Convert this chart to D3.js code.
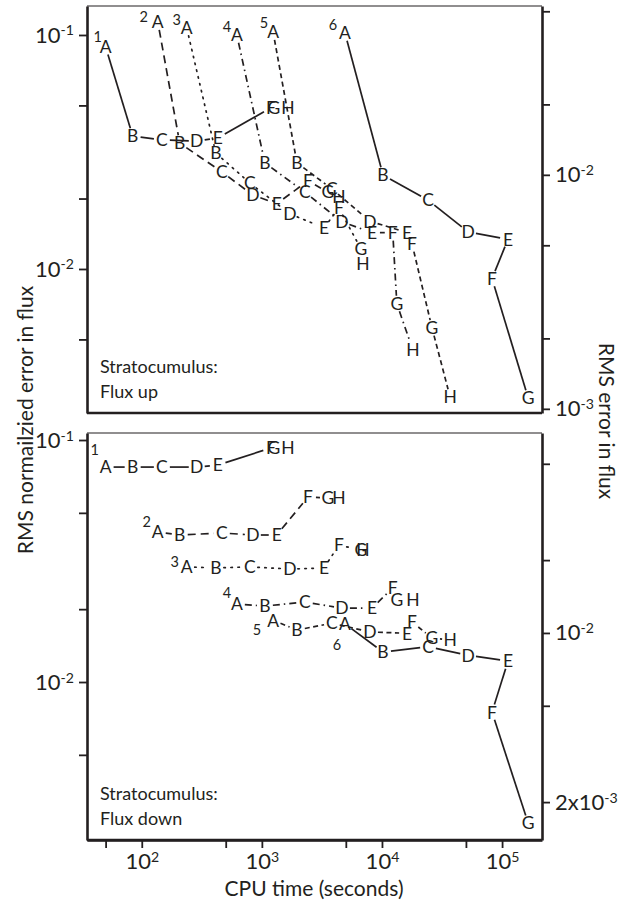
<!DOCTYPE html>
<html>
<head>
<meta charset="UTF-8">
<script src="https://d3js.org/d3.v7.min.js"></script>
<style>
  body { margin: 0; background: #fff; }
  svg text { font-family: Lato, "Open Sans", sans-serif; fill: #231f20; }
</style>
</head>
<body>
<svg id="chart" width="628" height="901"></svg>
<script>
// point letters and series numbers
const pointLetters = ['A', 'B', 'C', 'D', 'E', 'F', 'G', 'H'];
const seriesNames = ['1', '2', '3', '4', '5', '6'];

// CPU time (seconds) of each point, same for both panels
const cpuTime = [
  [50, 84, 147, 287, 430, 1190, 1260, 1650],
  [136, 207, 464, 841, 1330, 2420, 3550, 4380],
  [237, 414, 794, 1710, 3290, 4380, 6680, 6950],
  [619, 1060, 2280, 4640, 8250, 12300, 13300, 18100],
  [1240, 1960, 3830, 7940, 16200, 17800, 26100, 36900],
  [4920, 10200, 24200, 52100, 112000, 82500, 165000]
];

// RMS normalized error, flux up
const fluxUpError = [
  [0.0889, 0.0370, 0.0356, 0.0352, 0.0363, 0.0488, 0.0488, 0.0488],
  [0.1137, 0.0345, 0.0260, 0.0207, 0.0190, 0.0238, 0.0213, 0.0203],
  [0.1071, 0.0313, 0.0233, 0.0172, 0.0150, 0.0182, 0.0122, 0.0105],
  [0.1000, 0.0284, 0.0213, 0.0159, 0.0143, 0.0143, 0.0071, 0.0045],
  [0.1030, 0.0284, 0.0220, 0.0160, 0.0143, 0.0128, 0.0056, 0.00284],
  [0.1020, 0.0252, 0.0197, 0.0144, 0.0134, 0.0091, 0.00281]
];

// RMS normalized error, flux down
const fluxDownError = [
  [0.0773, 0.0773, 0.0773, 0.0773, 0.0788, 0.0927, 0.0927, 0.0927],
  [0.0417, 0.0405, 0.0413, 0.0405, 0.0405, 0.0581, 0.0576, 0.0576],
  [0.0299, 0.0296, 0.0299, 0.0293, 0.0296, 0.0368, 0.0351, 0.0351],
  [0.0210, 0.0206, 0.0214, 0.0202, 0.0202, 0.0245, 0.0218, 0.0218],
  [0.0180, 0.0164, 0.0175, 0.0161, 0.0159, 0.0177, 0.0152, 0.0149],
  [0.0174, 0.0133, 0.0140, 0.0129, 0.0122, 0.0075, 0.00261]
];

// ticks
const xTicks = [50, 100, 500, 1000, 5000, 1e4, 5e4, 1e5];
const xTickLabels = [[100, '10', '2'], [1000, '10', '3'], [1e4, '10', '4'], [1e5, '10', '5']];
const leftTicks = [0.1, 0.05, 0.02, 0.01, 0.005];
const leftTickLabels = [[0.1, '10', '-1'], [0.01, '10', '-2']];
const upRightTicks = [0.05, 0.02, 0.01, 0.005, 0.002, 0.001];
const upRightLabels = [[0.01, '10', '-2'], [0.001, '10', '-3']];
const downRightTicks = [0.05, 0.02, 0.01, 0.005, 0.002];
const downRightLabels = [[0.01, '10', '-2'], [0.002, '2x10', '-3']];

// styles
const dashes = ['none', '8,5', '1.5,5.5', '7,4,1.5,4', '5,3.5', 'none'];
const upNumOffsets = [[-8, -10], [-14, -5], [-10, -8], [-10, -8], [-9, -9], [-12, -8]];
const downNumOffsets = [[-11, -17], [-11, -10], [-12, -5], [-10, -11], [-16, 10], [-8, 21]];

const svg = d3.select('#chart');
const left = 87, right = 542;
const ink = '#231f20';

const x = d3.scaleLog().domain([35, 215000]).range([left, right]);

function supText(sel, lookup) {
  sel.each(function (d) {
    const t = d3.select(this);
    t.text(null);
    const lab = lookup.find(l => Math.abs(l[0] - d) < d * 1e-6);
    if (!lab) return;
    t.append('tspan').text(lab[1]);
    t.append('tspan').attr('dy', '-0.5em').attr('font-size', '0.64em').text(lab[2]);
  });
}

function styleAxis(g) {
  g.attr('font-family', null).attr('font-size', null);
  g.select('.domain').attr('stroke', ink).attr('stroke-width', 2.6);
  g.selectAll('.tick line').attr('stroke', ink).attr('stroke-width', 1.8);
  g.selectAll('.tick text').attr('font-size', 22).attr('fill', ink);
}

function drawPanel(cfg) {
  const y = d3.scaleLog().domain(cfg.domain).range([cfg.top, cfg.bottom]);
  const yR = d3.scaleLog().domain(cfg.domain.map(v => v * cfg.k)).range([cfg.top, cfg.bottom]);
  const g = svg.append('g');

  // frame: thin top, thick bottom
  g.append('line').attr('x1', left).attr('x2', right).attr('y1', cfg.top).attr('y2', cfg.top)
    .attr('stroke', ink).attr('stroke-width', 1.2);
  g.append('line').attr('x1', left).attr('x2', right).attr('y1', cfg.bottom).attr('y2', cfg.bottom)
    .attr('stroke', ink).attr('stroke-width', 2.6);

  const la = g.append('g').attr('transform', `translate(${left},0)`)
    .call(d3.axisLeft(y).tickValues(leftTicks).tickSize(8).tickSizeOuter(0).tickPadding(5));
  styleAxis(la);
  la.selectAll('.tick text').call(supText, leftTickLabels);

  const ra = g.append('g').attr('transform', `translate(${right},0)`)
    .call(d3.axisRight(yR).tickValues(cfg.rightTicks).tickSize(8).tickSizeOuter(0).tickPadding(5));
  styleAxis(ra);
  ra.selectAll('.tick text').call(supText, cfg.rightLabels);

  if (cfg.showX) {
    const xa = g.append('g').attr('transform', `translate(0,${cfg.bottom})`)
      .call(d3.axisBottom(x).tickValues(xTicks).tickSize(8).tickSizeOuter(0).tickPadding(5));
    styleAxis(xa);
    xa.selectAll('.tick text').call(supText, xTickLabels);
  }

  // series
  const r = 8;
  cfg.errors.forEach((errs, i) => {
    const pts = errs.map((e, j) => ({ px: x(cpuTime[i][j]), py: y(e), letter: pointLetters[j] }));
    const segs = [];
    for (let j = 0; j < pts.length - 1; j++) {
      const p = pts[j], q = pts[j + 1];
      const dx = q.px - p.px, dy = q.py - p.py, L = Math.hypot(dx, dy);
      if (L <= 2 * r + 1) continue;
      const ux = dx / L, uy = dy / L;
      segs.push([p.px + ux * r, p.py + uy * r, q.px - ux * r, q.py - uy * r]);
    }
    g.selectAll(null).data(segs).enter().append('line')
      .attr('x1', d => d[0]).attr('y1', d => d[1]).attr('x2', d => d[2]).attr('y2', d => d[3])
      .attr('stroke', ink).attr('stroke-width', 1.7)
      .attr('stroke-dasharray', dashes[i])
      .attr('stroke-linecap', i === 2 ? 'round' : 'butt');

    g.selectAll(null).data(pts).enter().append('text')
      .attr('x', d => d.px).attr('y', d => d.py).attr('dy', '0.36em')
      .attr('text-anchor', 'middle').attr('font-size', 17.5)
      .text(d => d.letter);

    const off = cfg.numOffsets[i];
    g.append('text')
      .attr('x', pts[0].px + off[0]).attr('y', pts[0].py + off[1]).attr('dy', '0.36em')
      .attr('text-anchor', 'middle').attr('font-size', 14.5)
      .text(seriesNames[i]);
  });

  g.append('text').attr('x', 100).attr('y', cfg.captionY).attr('font-size', 18).text('Stratocumulus:');
  g.append('text').attr('x', 100).attr('y', cfg.captionY + 25).attr('font-size', 18).text(cfg.caption);
}

drawPanel({
  top: 6, bottom: 413, domain: [0.133, 0.002424], k: 0.396,
  errors: fluxUpError, numOffsets: upNumOffsets,
  rightTicks: upRightTicks, rightLabels: upRightLabels,
  captionY: 373, caption: 'Flux up', showX: false
});

drawPanel({
  top: 433, bottom: 840, domain: [0.1069, 0.002224], k: 0.627,
  errors: fluxDownError, numOffsets: downNumOffsets,
  rightTicks: downRightTicks, rightLabels: downRightLabels,
  captionY: 800, caption: 'Flux down', showX: true
});

// axis titles
svg.append('text').attr('transform', 'translate(24,420) rotate(-90)')
  .attr('text-anchor', 'middle').attr('dominant-baseline', 'central').attr('font-size', 21)
  .text('RMS normailzied error in flux');
svg.append('text').attr('transform', 'translate(607,421) rotate(90)')
  .attr('text-anchor', 'middle').attr('dominant-baseline', 'central').attr('font-size', 21)
  .text('RMS error in flux');
svg.append('text').attr('x', 314).attr('y', 887)
  .attr('text-anchor', 'middle').attr('dominant-baseline', 'central').attr('font-size', 21)
  .text('CPU time (seconds)');
</script>
</body>
</html>
